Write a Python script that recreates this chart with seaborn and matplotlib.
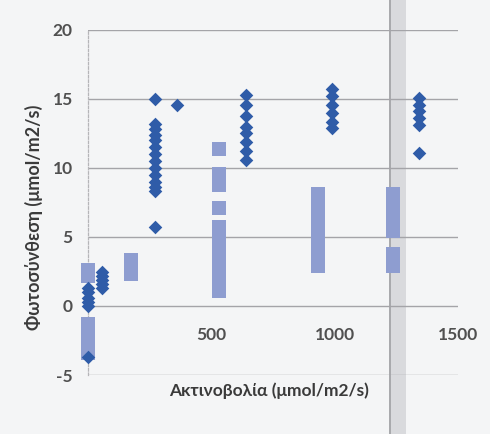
import matplotlib
matplotlib.use("Agg")
import matplotlib.pyplot as plt
from matplotlib.patches import Rectangle
import seaborn as sns
import pandas as pd

# Diamond series: (radiation, photosynthesis) readings
diamond_x = [0, 0, 0, 0, 0, 0,
             55, 55, 55, 55, 55,
             270, 270, 270, 270, 270, 270, 270, 270, 270, 270, 270, 270, 270, 270,
             359,
             640, 640, 640, 640, 640, 640, 640, 640,
             990, 990, 990, 990, 990, 990,
             1340, 1340, 1340, 1340, 1340, 1340]
diamond_y = [1.3, 1.0, 0.6, 0.3, 0.0, -3.7,
             2.5, 2.2, 1.9, 1.6, 1.3,
             15.0, 13.2, 12.8, 12.4, 12.0, 11.5, 11.0, 10.5, 10.0, 9.5, 9.0, 8.6, 8.3, 5.7,
             14.6,
             15.3, 14.6, 13.8, 13.0, 12.5, 11.9, 11.2, 10.6,
             15.7, 15.2, 14.6, 14.0, 13.3, 12.9,
             15.1, 14.6, 14.1, 13.6, 13.1, 11.1]

# Square series
square_x = [0, 0, 0, 0, 0, 0, 0, 0, 0,
            173, 173, 173,
            532, 532, 532, 532, 532, 532, 532, 532, 532, 532, 532, 532, 532, 532, 532,
            931, 931, 931, 931, 931, 931, 931, 931, 931, 931, 931, 931,
            1238, 1238, 1238, 1238, 1238, 1238, 1238, 1238, 1238, 1238]
square_y = [2.6, 2.2, -1.3, -1.7, -2.1, -2.5, -2.9, -3.2, -3.4,
            3.3, 2.8, 2.3,
            11.4, 9.6, 9.2, 8.8, 7.1, 5.7, 5.2, 4.7, 4.2, 3.7, 3.2, 2.7, 2.2, 1.7, 1.1,
            8.1, 7.6, 7.1, 6.6, 6.1, 5.6, 5.1, 4.6, 4.1, 3.6, 3.2, 2.9,
            8.1, 7.6, 7.1, 6.6, 6.1, 5.6, 5.4, 3.8, 3.4, 2.9]

x_ticks = [500, 1000, 1500]
y_ticks = [-5, 0, 5, 10, 15, 20]
x_title = "Ακτινοβολία (μmol/m2/s)"
y_title = "Φωτοσύνθεση (μmol/m2/s)"

sns.set_theme(style="white")
plt.rcParams["font.family"] = ["Lato", "DejaVu Sans"]

bg = "#f4f5f6"
fig = plt.figure(figsize=(4.9, 4.34), dpi=100, facecolor=bg)
ax = fig.add_axes([88 / 490, 1 - 375 / 434, 370 / 490, 345 / 434])
ax.set_facecolor("none")
ax.set_zorder(1)

# fold shadow across the sheet, behind the plot
fig.patches.append(Rectangle((390 / 490, 0), 16 / 490, 1, transform=fig.transFigure,
                             facecolor="#d9dadd", edgecolor="none", zorder=-2))
fig.patches.append(Rectangle((389 / 490, 0), 2 / 490, 1, transform=fig.transFigure,
                             facecolor="#a9aaad", edgecolor="none", zorder=-1))

sq = pd.DataFrame({"x": square_x, "y": square_y})
dm = pd.DataFrame({"x": diamond_x, "y": diamond_y})

sns.scatterplot(data=sq, x="x", y="y", marker="s", s=100, color="#8e9dd0",
                linewidth=0, ax=ax, zorder=3)
sns.scatterplot(data=dm, x="x", y="y", marker="D", s=48, color="#2f5ca8",
                linewidth=0, ax=ax, zorder=4)
for coll in ax.collections:
    coll.set_clip_on(False)

ax.set_xlim(0, 1500)
ax.set_ylim(-5, 20)
ax.set_yticks(y_ticks)
ax.set_yticklabels([f"{v}" for v in y_ticks])
ax.set_xticks(x_ticks)
ax.set_xticklabels([f"{v}" for v in x_ticks])

for v in y_ticks:
    ax.axhline(v, color="#a4a4a8", linewidth=1.0, zorder=1)

for side in ["top", "right", "bottom"]:
    ax.spines[side].set_visible(False)
ax.spines["bottom"].set_position(("data", 0))
ax.spines["left"].set_color("#b5b5b8")
ax.spines["left"].set_linestyle((0, (2, 1.5)))
ax.spines["left"].set_linewidth(0.9)

ax.tick_params(axis="y", length=0, pad=11, labelsize=12.5, labelcolor="#505050")
ax.tick_params(axis="x", length=0, pad=15, labelsize=12.5, labelcolor="#505050")
for lab in ax.get_xticklabels() + ax.get_yticklabels():
    lab.set_fontweight("bold")

ax.set_xlabel(x_title, fontsize=12.5, fontweight="bold", color="#3a3a3a")
ax.set_ylabel(y_title, fontsize=13, fontweight="bold", color="#3a3a3a")
ax.xaxis.set_label_coords(0.49, -0.045)
ax.yaxis.set_label_coords(-0.145, 0.458)
ax.xaxis.label.set_verticalalignment("center")
ax.yaxis.label.set_verticalalignment("center")

fig.savefig("out.png", dpi=100, facecolor=bg)
